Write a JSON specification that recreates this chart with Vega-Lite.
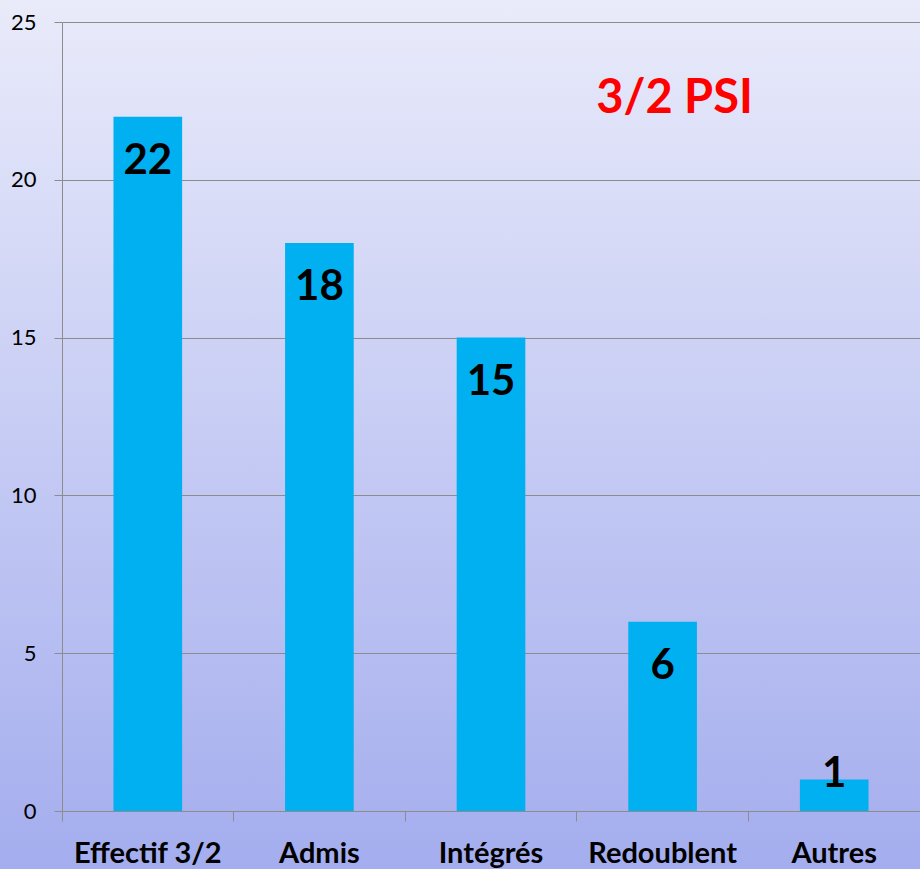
{
  "$schema": "https://vega.github.io/schema/vega-lite/v6.json",
  "width": 920,
  "height": 869,
  "autosize": {"type": "none"},
  "padding": 0,
  "background": "#a9b2ef",
  "config": {
    "view": {
      "stroke": null,
      "fill": {
        "gradient": "linear",
        "x1": 0, "y1": 0, "x2": 0, "y2": 1,
        "stops": [
          {"offset": 0, "color": "#e9ebfa"},
          {"offset": 1, "color": "#a4adee"}
        ]
      }
    },
    "font": "Lato"
  },
  "data": {
    "values": [
      {"categorie": "Effectif 3/2", "valeur": 22},
      {"categorie": "Admis", "valeur": 18},
      {"categorie": "Intégrés", "valeur": 15},
      {"categorie": "Redoublent", "valeur": 6},
      {"categorie": "Autres", "valeur": 1}
    ]
  },
  "layer": [
    {
      "mark": {"type": "bar", "color": "#00b0f0", "width": {"band": 0.4}},
      "encoding": {
        "x": {
          "field": "categorie",
          "type": "nominal",
          "sort": null,
          "scale": {"range": [62, 920], "paddingInner": 0, "paddingOuter": 0},
          "axis": {
            "title": null,
            "orient": "bottom",
            "offset": -58,
            "labelAngle": 0,
            "labelFontSize": 29,
            "labelFontWeight": "bold",
            "labelColor": "#000000",
            "labelBaseline": "alphabetic",
            "labelPadding": 41,
            "bandPosition": 0,
            "tickSize": 10,
            "tickColor": "#8c8c8c",
            "domainColor": "#8c8c8c",
            "grid": false
          }
        },
        "y": {
          "field": "valeur",
          "type": "quantitative",
          "scale": {"domain": [0, 25], "range": [811, 22], "nice": false, "zero": true},
          "axis": {
            "title": null,
            "orient": "left",
            "offset": -62,
            "values": [0, 5, 10, 15, 20, 25],
            "labelFontSize": 22,
            "labelColor": "#000000",
            "labelPadding": 18,
            "tickSize": 8,
            "tickColor": "#8c8c8c",
            "domainColor": "#8c8c8c",
            "grid": true,
            "gridColor": "#8c8c8c",
            "gridOpacity": 1
          }
        }
      }
    },
    {
      "transform": [{"filter": "datum.valeur >= 2"}],
      "mark": {"type": "text", "fontSize": 42, "fontWeight": "bold", "color": "#000000", "align": "center", "baseline": "alphabetic", "dy": 57},
      "encoding": {
        "x": {"field": "categorie", "type": "nominal", "sort": null},
        "y": {"field": "valeur", "type": "quantitative"},
        "text": {"field": "valeur", "type": "quantitative"}
      }
    },
    {
      "transform": [{"filter": "datum.valeur < 2"}],
      "mark": {"type": "text", "fontSize": 42, "fontWeight": "bold", "color": "#000000", "align": "center", "baseline": "alphabetic", "dy": 8},
      "encoding": {
        "x": {"field": "categorie", "type": "nominal", "sort": null},
        "y": {"field": "valeur", "type": "quantitative"},
        "text": {"field": "valeur", "type": "quantitative"}
      }
    },
    {
      "data": {"values": [{"titre": "3/2 PSI"}]},
      "mark": {"type": "text", "fontSize": 47, "fontWeight": "bold", "color": "#ff0000", "align": "center", "baseline": "middle", "dx": 12, "dy": 1},
      "encoding": {
        "x": {"datum": "Redoublent", "type": "nominal"},
        "y": {"datum": 22.58, "type": "quantitative"},
        "text": {"field": "titre", "type": "nominal"}
      }
    }
  ]
}
